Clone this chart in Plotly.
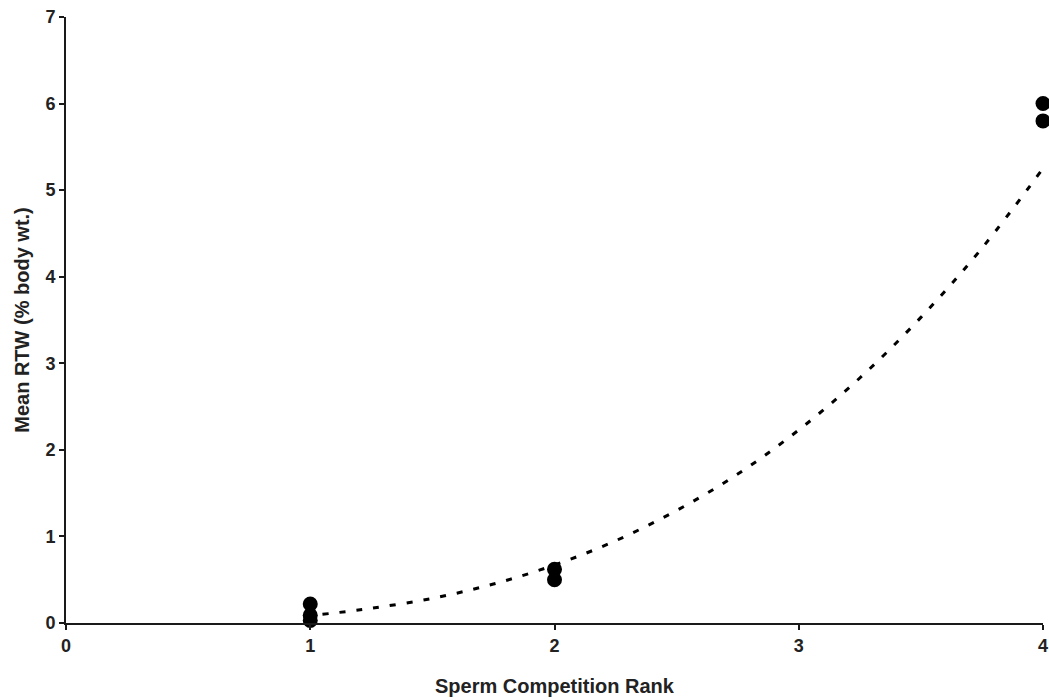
import plotly.graph_objects as go

# Observed data points
rank = [1, 1, 1, 2, 2, 4, 4]
rtw = [0.22, 0.09, 0.03, 0.62, 0.50, 6.00, 5.80]

# Trendline values (dotted curve)
trend_x = [1.05, 1.25, 1.5, 1.75, 2.0, 2.25, 2.5, 2.75, 3.0, 3.25, 3.5, 3.75, 4.0]
trend_y = [0.10, 0.17, 0.285, 0.45, 0.67, 0.95, 1.30, 1.72, 2.23, 2.83, 3.53, 4.33, 5.25]

x_ticks = [0, 1, 2, 3, 4]
y_ticks = [0, 1, 2, 3, 4, 5, 6, 7]

font_family = "Liberation Sans, Arial, sans-serif"

fig = go.Figure()
fig.add_trace(go.Scatter(
    x=trend_x, y=trend_y, mode="lines",
    line=dict(color="black", width=3, dash="6px,11px", shape="spline"),
    hoverinfo="skip", showlegend=False,
))
fig.add_trace(go.Scatter(
    x=rank, y=rtw, mode="markers",
    marker=dict(color="black", size=15),
    cliponaxis=False, showlegend=False,
))

axis_common = dict(
    showgrid=False, zeroline=False,
    showline=True, linecolor="#1a1a1a", linewidth=2,
    ticks="outside", ticklen=5, tickwidth=2, tickcolor="#1a1a1a",
    tickfont=dict(family=font_family, size=18, color="#222222", weight="bold"),
)

fig.update_layout(
    width=1049, height=700,
    margin=dict(l=66, r=6, t=17, b=77, autoexpand=False),
    paper_bgcolor="white", plot_bgcolor="white",
    xaxis=dict(range=[0, 4], tickvals=x_ticks,
               title=dict(text="<b>Sperm Competition Rank</b>",
                          font=dict(family=font_family, size=20, color="#222222"),
                          standoff=24),
               **axis_common),
    yaxis=dict(range=[0, 7], tickvals=y_ticks,
               title=dict(text="<b>Mean RTW (% body wt.)</b>",
                          font=dict(family=font_family, size=20, color="#222222"),
                          standoff=10),
               **axis_common),
)

fig.write_html("out.html", config={"displayModeBar": False},
               post_script="document.body.style.margin='0';")
